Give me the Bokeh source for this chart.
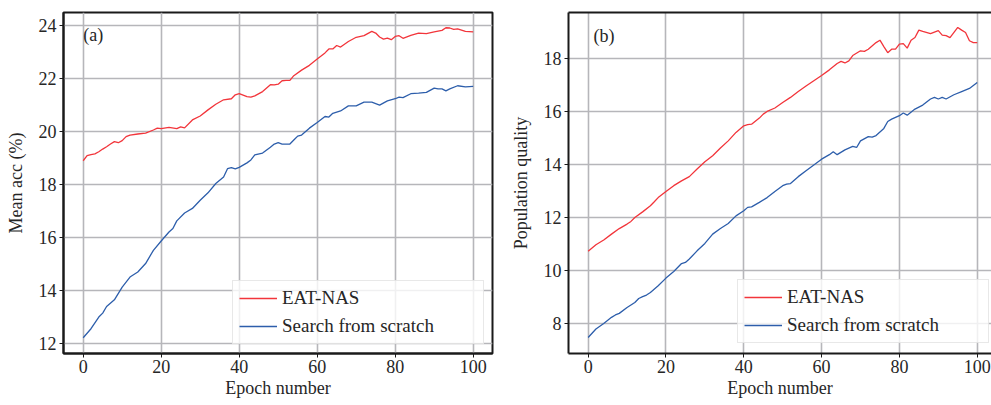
from bokeh.plotting import figure
from bokeh.layouts import row
from bokeh.models import Legend, LegendItem, Label, FixedTicker, LinearAxis, Range1d
from bokeh.embed import file_html
from bokeh.resources import INLINE

# ---- data (a): Mean acc (%) ----
a_eat_x = [0, 1, 2, 3, 4, 5, 6, 7, 8, 9, 10, 11, 12, 14, 16, 18, 19, 20, 22, 24, 25, 26, 28, 30,
           32, 34, 36, 38, 39, 40, 42, 43, 44, 46, 48, 49, 50, 51, 52, 53, 54, 56, 58, 60, 62, 63,
           64, 65, 66, 68, 70, 72, 74, 75, 76, 77, 78, 79, 80, 81, 82, 84, 86, 88, 90, 92, 93, 94,
           95, 96, 98, 100]
a_eat_y = [18.89, 19.08, 19.12, 19.15, 19.23, 19.33, 19.42, 19.52, 19.61, 19.57, 19.65, 19.8, 19.86,
           19.9, 19.93, 20.05, 20.12, 20.1, 20.15, 20.1, 20.17, 20.13, 20.43, 20.58, 20.81, 21.02,
           21.19, 21.23, 21.38, 21.42, 21.31, 21.29, 21.34, 21.5, 21.76, 21.75, 21.78, 21.91, 21.92,
           21.92, 22.1, 22.31, 22.49, 22.73, 22.96, 23.11, 23.11, 23.24, 23.18, 23.39, 23.55, 23.61,
           23.77, 23.71, 23.56, 23.48, 23.52, 23.46, 23.58, 23.61, 23.51, 23.62, 23.71, 23.69, 23.75,
           23.81, 23.91, 23.9, 23.85, 23.87, 23.77, 23.75]
a_scr_x = [0, 2, 4, 5, 6, 8, 10, 12, 14, 16, 18, 20, 22, 23, 24, 26, 28, 30, 32, 34, 36, 37, 38, 39,
           40, 42, 43, 44, 46, 48, 49, 50, 51, 52, 53, 54, 55, 56, 58, 60, 62, 63, 64, 66, 68, 70,
           72, 74, 76, 78, 80, 81, 82, 84, 86, 88, 90, 91, 92, 93, 94, 96, 98, 100]
a_scr_y = [12.21, 12.55, 12.99, 13.14, 13.39, 13.64, 14.12, 14.5, 14.69, 15.01, 15.51, 15.86, 16.2,
           16.33, 16.62, 16.92, 17.09, 17.4, 17.68, 18.03, 18.28, 18.59, 18.63, 18.58, 18.64, 18.81,
           18.92, 19.11, 19.18, 19.4, 19.52, 19.57, 19.52, 19.52, 19.52, 19.67, 19.82, 19.86, 20.12,
           20.33, 20.56, 20.54, 20.68, 20.77, 20.96, 20.96, 21.1, 21.1, 20.99, 21.15, 21.23, 21.29,
           21.27, 21.42, 21.44, 21.47, 21.63, 21.6, 21.6, 21.53, 21.6, 21.72, 21.68, 21.7]

# ---- data (b): Population quality ----
b_eat_x = [0, 2, 4, 6, 8, 10, 11, 12, 14, 16, 17, 18, 20, 22, 24, 26, 28, 30, 32, 34, 36, 38, 40,
           41, 42, 44, 45, 46, 48, 50, 52, 54, 56, 58, 60, 62, 64, 65, 66, 67, 68, 70, 71, 72, 74,
           75, 76, 77, 78, 79, 80, 81, 82, 83, 84, 85, 86, 88, 90, 91, 92, 93, 95, 96, 97, 98, 99, 100]
b_eat_y = [10.72, 10.97, 11.15, 11.37, 11.58, 11.75, 11.85, 12.0, 12.21, 12.44, 12.59, 12.75, 12.98,
           13.2, 13.38, 13.54, 13.83, 14.1, 14.33, 14.62, 14.89, 15.21, 15.46, 15.5, 15.52, 15.75,
           15.9, 16.0, 16.13, 16.34, 16.53, 16.75, 16.96, 17.16, 17.36, 17.57, 17.81, 17.89, 17.83,
           17.91, 18.11, 18.29, 18.27, 18.35, 18.6, 18.69, 18.45, 18.22, 18.35, 18.35, 18.54, 18.56,
           18.39, 18.69, 18.79, 19.07, 19.02, 18.94, 19.05, 18.88, 18.86, 18.79, 19.17, 19.07, 18.98,
           18.67, 18.6, 18.6]
b_scr_x = [0, 2, 4, 6, 7, 8, 10, 12, 13, 14, 15, 16, 18, 20, 22, 24, 25, 26, 28, 30, 32, 34, 36, 38,
           40, 41, 42, 44, 46, 48, 50, 51, 52, 54, 56, 58, 60, 62, 63, 64, 66, 68, 69, 70, 72, 73,
           74, 76, 77, 78, 80, 81, 82, 84, 86, 88, 89, 90, 91, 92, 94, 96, 98, 100]
b_scr_y = [7.47, 7.79, 8.0, 8.23, 8.32, 8.38, 8.6, 8.79, 8.94, 9.01, 9.07, 9.17, 9.42, 9.71, 9.96,
           10.26, 10.3, 10.43, 10.74, 11.02, 11.37, 11.58, 11.77, 12.06, 12.25, 12.38, 12.4, 12.57,
           12.75, 12.98, 13.2, 13.26, 13.28, 13.54, 13.76, 13.98, 14.2, 14.37, 14.48, 14.37, 14.55,
           14.68, 14.64, 14.89, 15.05, 15.03, 15.09, 15.36, 15.62, 15.71, 15.84, 15.94, 15.86, 16.09,
           16.24, 16.47, 16.53, 16.47, 16.53, 16.47, 16.63, 16.75, 16.87, 17.09]

x_ticks = [0, 20, 40, 60, 80, 100]
a_ticks = [12, 14, 16, 18, 20, 22, 24]
b_ticks = [8, 10, 12, 14, 16, 18]
series_names = ["EAT-NAS", "Search from scratch"]
x_label = "Epoch number"
a_ylabel = "Mean acc (%)"
b_ylabel = "Population quality"

RED = "#f2353b"
BLUE = "#2d5eab"
FONT = "Liberation Serif"
TXT = "#262626"
GRID = "#b6b6ba"


def style(p, yticks):
    p.xaxis.ticker = FixedTicker(ticks=x_ticks)
    p.yaxis.ticker = FixedTicker(ticks=yticks)
    for ax in p.axis:
        ax.axis_line_width = 2
        ax.axis_line_color = "#1a1a1a"
        ax.major_tick_line_color = "#1a1a1a"
        ax.major_tick_line_width = 1
        ax.major_tick_out = 4
        ax.major_tick_in = 0
        ax.minor_tick_line_color = None
        ax.major_label_text_font = FONT
        ax.major_label_text_font_size = "18px"
        ax.major_label_text_color = TXT
        ax.axis_label_text_font = FONT
        ax.axis_label_text_font_size = "18px"
        ax.axis_label_text_font_style = "normal"
        ax.axis_label_text_color = TXT
    p.xaxis.major_label_standoff = 2
    p.xaxis.axis_label_standoff = 2
    p.yaxis.major_label_standoff = 3
    p.yaxis.axis_label_standoff = 10
    p.grid.grid_line_color = GRID
    p.grid.grid_line_width = 1.6
    p.background_fill_color = "white"
    p.border_fill_color = "white"


def add_lines(p, ex, ey, sx, sy, loc):
    r1 = p.line(ex, ey, line_color=RED, line_width=1.3)
    r2 = p.line(sx, sy, line_color=BLUE, line_width=1.3)
    leg = Legend(items=[LegendItem(label=series_names[0], renderers=[r1]),
                        LegendItem(label=series_names[1], renderers=[r2])],
                 location=loc)
    leg.label_text_font = FONT
    leg.label_text_font_size = "19px"
    leg.label_text_color = TXT
    leg.label_height = 20
    leg.glyph_height = 20
    leg.glyph_width = 38
    leg.label_standoff = 5
    leg.label_width = 195
    leg.padding = 6
    leg.spacing = 6
    leg.margin = 0
    leg.border_line_color = "#d2d2d2"
    leg.border_line_width = 1
    leg.background_fill_color = "white"
    leg.background_fill_alpha = 0.8
    p.add_layout(leg)


p1 = figure(width=507, height=405, x_range=Range1d(-5.05, 104.95), y_range=Range1d(11.615, 24.485),
            output_backend="svg", toolbar_location=None,
            min_border_left=63, min_border_right=15, min_border_top=12, min_border_bottom=52,
            x_axis_label=x_label, y_axis_label=a_ylabel)
style(p1, a_ticks)
p1.outline_line_color = "#1a1a1a"
p1.outline_line_width = 2
p1.outline_line_alpha = 1
add_lines(p1, a_eat_x, a_eat_y, a_scr_x, a_scr_y, (169, 9))
p1.add_layout(Label(x=0, y=23.65, text="(a)", text_baseline="middle", text_font=FONT,
                    text_font_size="18px", text_color=TXT))

p2 = figure(width=484, height=405, x_range=Range1d(-5.05, 103.67), y_range=Range1d(6.865, 19.735),
            output_backend="svg", toolbar_location=None,
            min_border_left=60, min_border_right=0, min_border_top=11, min_border_bottom=52,
            x_axis_label=x_label, y_axis_label=b_ylabel)
p2.outline_line_color = None
top_axis = LinearAxis(ticker=FixedTicker(ticks=[]))
p2.add_layout(top_axis, "above")
style(p2, b_ticks)
top_axis.ticker = FixedTicker(ticks=[])
top_axis.major_tick_out = 0
top_axis.major_label_standoff = 0
top_axis.axis_label = None
add_lines(p2, b_eat_x, b_eat_y, b_scr_x, b_scr_y, (169, 10))
p2.add_layout(Label(x=1.4, y=18.86, text="(b)", text_baseline="middle", text_font=FONT,
                    text_font_size="18px", text_color=TXT))

layout = row(p1, p2)
open("out.html", "w").write(file_html(layout, INLINE))
